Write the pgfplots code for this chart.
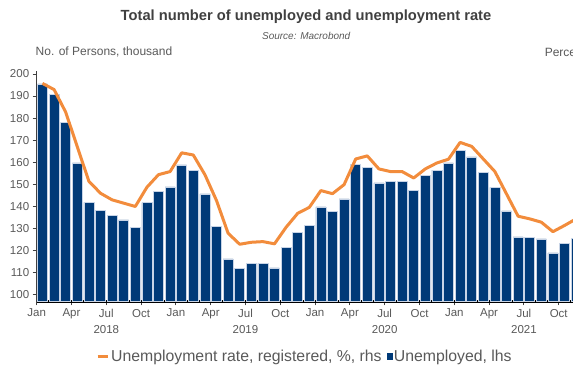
\documentclass[border=0pt]{standalone}
\usepackage{fontspec}
\setmainfont{Liberation Sans}
\usepackage{pgfplots}
\usepackage{pgfplotstable}
\pgfplotsset{compat=1.18}
\definecolor{bluec}{HTML}{003A78}
\definecolor{orangec}{HTML}{F28C3C}
\definecolor{txt}{HTML}{595959}
\definecolor{ttl}{HTML}{404040}
\definecolor{edgec}{HTML}{C8D4E6}
\pgfplotstableread{
x bars line
0.5 195.5 195.7
1.5 190.6 192.9
2.5 178.0 182.7
3.5 159.7 167.0
4.5 141.9 151.4
5.5 138.3 146.0
6.5 136.0 143.0
7.5 133.9 141.5
8.5 130.5 140.0
9.5 141.8 148.7
10.5 146.9 154.4
11.5 148.9 155.8
12.5 158.8 164.3
13.5 156.2 163.3
14.5 145.7 154.4
15.5 130.9 142.7
16.5 116.3 127.9
17.5 112.0 122.9
18.5 114.2 123.8
19.5 114.3 124.1
20.5 112.2 123.1
21.5 121.4 130.6
22.5 128.3 136.9
23.5 131.5 139.6
24.5 139.8 147.2
25.5 137.8 145.8
26.5 143.4 149.9
27.5 159.1 161.5
28.5 157.7 162.9
29.5 150.7 157.0
30.5 151.3 155.8
31.5 151.3 155.8
32.5 147.3 152.9
33.5 154.1 157.0
34.5 156.5 159.7
35.5 159.7 161.4
36.5 165.3 169.0
37.5 162.4 167.2
38.5 155.5 161.5
39.5 148.7 155.8
40.5 138.0 145.7
41.5 126.2 135.6
42.5 125.9 134.4
43.5 125.3 132.9
44.5 119.0 128.6
45.5 123.3 131.4
46.5 125.6 134.4
}\data
\begin{document}
\begin{tikzpicture}[x=1pt,y=1pt]
\begin{axis}[
  at={(36.7pt,67.5pt)}, anchor=south west,
  scale only axis, width=545.2pt, height=230.9pt,
  xmin=0, xmax=47, ymin=97, ymax=201.5,
  axis x line*=bottom, axis y line*=left,
  x axis line style={line width=2.6pt, black, -},
  y axis line style={line width=0.8pt, black!75, -},
  ytick={100,110,...,200},
  xtick={0,3,...,45},
  xticklabels={Jan,Apr,{Jul\\2018},Oct,Jan,Apr,{Jul\\2019},Oct,Jan,Apr,{Jul\\2020},Oct,Jan,Apr,{Jul\\2021},Oct},
  tick align=outside,
  major tick length=4pt,
  tick style={line width=0.8pt, black!75},
  tick label style={font=\fontsize{11.5}{16.4}\selectfont, text=txt},
  x tick label style={align=center, anchor=north},
  /pgf/number format/assume math mode=true,
  legend style={at={(0.1088,-0.237)}, anchor=west, draw=none, fill=none,
    inner sep=0pt, font=\fontsize{15.8}{18}\selectfont, text=txt,
    /tikz/every even column/.append style={column sep=3.5pt},
    nodes={inner xsep=1.5pt, inner ysep=0pt}},
  legend columns=2,
  legend cell align=left,
]
\addlegendimage{legend image code/.code={\draw[orangec, line width=3pt] (0pt,0pt) -- (10.5pt,0pt);}}
\addlegendentry{Unemployment rate, registered, \%, rhs}
\addlegendimage{legend image code/.code={\fill[bluec] (0pt,-2.6pt) rectangle (5.4pt,2.6pt);}}
\addlegendentry{Unemployed, lhs}
\addplot[ybar, bar width=0.86, fill=bluec, draw=edgec, line width=0.5pt, forget plot] table[x=x,y=bars]{\data};
\addplot[orangec, line width=3pt, line join=round, no markers, forget plot] table[x=x,y=line]{\data};
\end{axis}
\node[font=\bfseries\fontsize{14.7}{17}\selectfont, text=ttl] at (306,352.6) {Total number of unemployed and unemployment rate};
\node[font=\itshape\fontsize{10}{12}\selectfont, text=txt] at (306.2,332.8) {Source: Macrobond};
\node[anchor=west, inner sep=0pt, font=\fontsize{12}{14}\selectfont, text=txt] at (35.5,316.7) {No. of Persons, thousand};
\node[anchor=west, inner sep=0pt, font=\fontsize{12}{14}\selectfont, text=txt] at (544.6,316.7) {Percent};
\pgfresetboundingbox
\useasboundingbox (0,0) rectangle (573,369);
\end{tikzpicture}
\end{document}
